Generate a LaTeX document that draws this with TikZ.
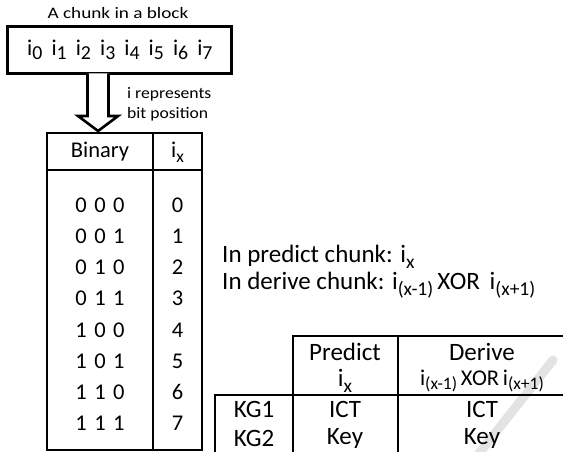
\documentclass[tikz,border=0pt]{standalone}
\usepackage{fontspec}
\usepackage{graphicx}
\setmainfont{Carlito}
\usetikzlibrary{calc}
% subscript in the style of the slide text
\newcommand\lowsub[1]{\raisebox{-0.22em}{\scalebox{0.78}{#1}}}
\newcommand\bitsub[1]{\raisebox{-0.2em}{\scalebox{0.88}{#1}}}
\newcommand\fsz[1]{\fontsize{#1}{#1}\selectfont}
\newcommand\wide[2]{\scalebox{#1}[1]{#2}}
\tikzset{
  frame/.style={line width=2.8pt},
  cell/.style={inner sep=0pt, anchor=center},
  mid/.style={font=\fsz{22.5}},
  big/.style={font=\fsz{25}},
  small/.style={font=\fsz{16}},
}
\begin{document}
\begin{tikzpicture}[x=1pt,y=-1pt]
\useasboundingbox (0,0) rectangle (563,452);
\fill[white] (0,0) rectangle (563,452);
\clip (0,0) rectangle (563,452);

% faint diagonal stroke behind the lower table
\draw[line width=9pt, gray!22, line cap=round] (477,456) -- (553,360);

% chunk of eight bits
\node[small, cell] (title) at (118,13) {\wide{1.2}{A chunk in a block}};
\node[draw, frame, minimum width=224pt, minimum height=47pt, inner sep=0pt] (chunk) at (119.5,50) {};
\foreach \k in {0,...,7}
  \node[mid, cell, anchor=west] (bit\k) at ({27+24.3*\k},50) {i\bitsub{\k}};

% hollow arrow down to the table
\coordinate (atop) at (98,73.5);
\coordinate (atip) at (98,131);
\draw[line width=2.6pt, line join=miter, fill=white]
  ($(atop)+(-10.5,0)$) -- ($(atip)+(-10.5,-15)$) -- ($(atip)+(-20,-15)$) -- (atip)
  -- ($(atip)+(20,-15)$) -- ($(atip)+(10.5,-15)$) -- ($(atop)+(10.5,0)$);
\node[small, cell, anchor=west] (note1) at (127,94) {\wide{1.1}{i represents}};
\node[small, cell, anchor=west] (note2) at (127,114) {\wide{1.1}{bit position}};

% binary / index table
\coordinate (tl) at (47,133);
\coordinate (br) at (202,450);
\draw[frame] (tl) rectangle (br);
\draw[frame] (153,133) -- (153,450);
\draw[frame] (47,170) -- (202,170);
\node[mid, cell] (hbin) at (100,152) {Binary};
\node[mid, cell] (hidx) at (177.5,152) {i\lowsub{x}};
\foreach \b [count=\k from 0] in {0\,\,0\,\,0,0\,\,0\,\,1,0\,\,1\,\,0,0\,\,1\,\,1,1\,\,0\,\,0,1\,\,0\,\,1,1\,\,1\,\,0,1\,\,1\,\,1} {
  \node[mid, cell] (b\k) at (100,{205+31.2*\k}) {\b};
  \node[mid, cell] (x\k) at (177.5,{205+31.2*\k}) {\k};
}

% explanation text
\node[big, cell, anchor=west] (pred) at (222,257) {In predict chunk: i\lowsub{x}};
\node[big, cell, anchor=west] (deriv) at (222,285)
  {In derive chunk: i\lowsub{(x-1)}\,XOR\, i\lowsub{(x+1)}};

% key generator table
\node[big, cell] (hp1) at (345,352) {Predict};
\node[big, cell] (hp2) at (345,381) {i\lowsub{x}};
\node[big, cell] (hd1) at (482,352) {Derive};
\node[mid, cell] (hd2) at (482,381) {i\lowsub{(x-1)}\,XOR\,i\lowsub{(x+1)}};
\node[big, cell] (k1) at (254,409) {KG1};
\node[big, cell] (k2) at (254,438) {KG2};
\node[big, cell] (p1) at (345,409) {ICT};
\node[big, cell] (p2) at (345,438) {Key};
\node[big, cell] (d1) at (482,409) {ICT};
\node[big, cell] (d2) at (482,438) {Key};
\draw[frame] (293,460) -- (293,336) -- (566,336);
\draw[frame] (398,336) -- (398,460);
\draw[frame] (215,460) -- (215,395) -- (566,395);
\end{tikzpicture}
\end{document}
